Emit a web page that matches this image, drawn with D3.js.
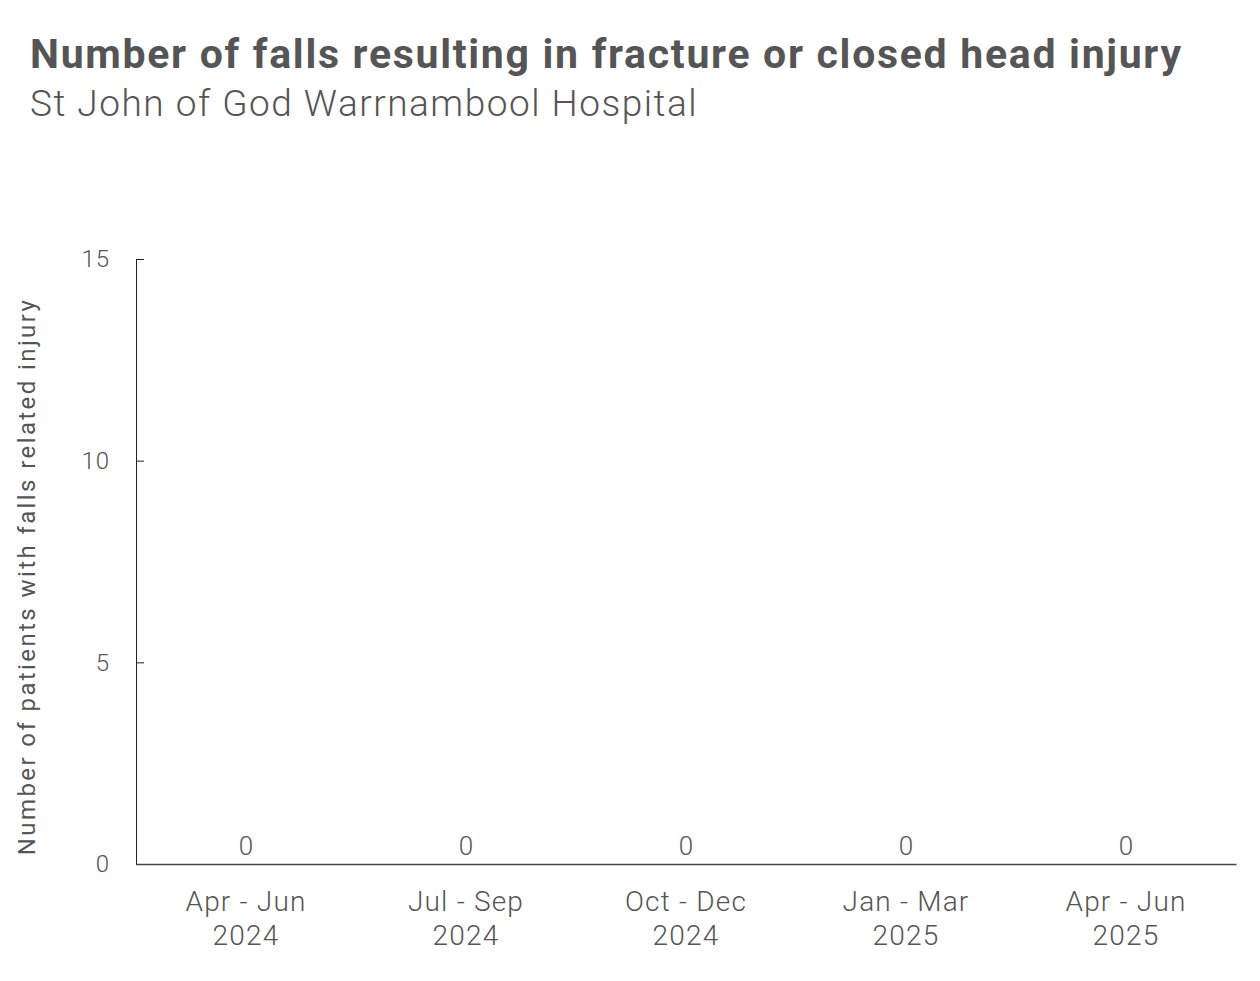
<!DOCTYPE html>
<html>
<head>
<meta charset="utf-8">
<script src="https://cdn.jsdelivr.net/npm/d3@7"></script>
<style>
  body { margin: 0; background: #fff; }
  svg text { font-family: Roboto, "DejaVu Sans", sans-serif; }
</style>
</head>
<body>
<svg width="1260" height="981"></svg>
<script>
// data
const periods = ["Apr - Jun 2024", "Jul - Sep 2024", "Oct - Dec 2024", "Jan - Mar 2025", "Apr - Jun 2025"];
const periodLines = [["Apr - Jun", "2024"], ["Jul - Sep", "2024"], ["Oct - Dec", "2024"], ["Jan - Mar", "2025"], ["Apr - Jun", "2025"]];
const falls = [0, 0, 0, 0, 0];
const yTicks = [0, 5, 10, 15];

const titleText = "Number of falls resulting in fracture or closed head injury";
const subtitleText = "St John of God Warrnambool Hospital";
const yTitle = "Number of patients with falls related injury";

const margin = { top: 259, right: 24, bottom: 117, left: 136 };
const W = 1260, H = 981;
const width = W - margin.left - margin.right;
const height = H - margin.top - margin.bottom;

const svg = d3.select("svg");

svg.append("text")
   .attr("x", 30).attr("y", 68)
   .attr("fill", "#555")
   .style("font-size", "41px")
   .style("font-weight", "700")
   .style("letter-spacing", "1.7px")
   .text(titleText);

svg.append("text")
   .attr("x", 30).attr("y", 116)
   .attr("fill", "#555")
   .style("font-size", "37px")
   .style("font-weight", "300")
   .style("letter-spacing", "1.5px")
   .text(subtitleText);

const g = svg.append("g")
             .attr("transform", `translate(${margin.left},${margin.top})`);

const x = d3.scaleBand().domain(periods).range([0, width]).padding(0);
const y = d3.scaleLinear().domain([0, 15]).range([height, 0]);

// y axis, ticks point inward
const yAxis = g.append("g")
   .call(d3.axisLeft(y).tickValues(yTicks).tickSize(-8).tickPadding(26));
yAxis.select(".domain").attr("stroke", "#222");
yAxis.selectAll(".tick line").attr("stroke", "#222");
yAxis.selectAll(".tick text")
     .attr("fill", "#555")
     .style("font-size", "24px")
     .style("font-family", "Roboto")
     .style("font-weight", "300")
     .style("letter-spacing", "1px");

// x axis
const xAxis = g.append("g")
   .attr("transform", `translate(0,${height})`)
   .call(d3.axisBottom(x).tickSize(0).tickFormat(""));
xAxis.select(".domain").attr("stroke", "#444").attr("stroke-width", 1.5);

xAxis.selectAll(".tick").each(function(d, i) {
  const t = d3.select(this).append("text")
    .attr("fill", "#555")
    .attr("text-anchor", "middle")
    .style("font-size", "28px")
    .style("font-family", "Roboto")
    .style("font-weight", "300")
    .style("letter-spacing", "1.2px");
  periodLines[i].forEach((ln, j) => {
    t.append("tspan").attr("x", 0).attr("y", 47 + j * 34).text(ln);
  });
});

// value labels
g.selectAll(".val")
 .data(falls)
 .enter()
 .append("text")
 .attr("class", "val")
 .attr("x", (d, i) => x(periods[i]) + x.bandwidth() / 2)
 .attr("y", d => y(d) - 9)
 .attr("text-anchor", "middle")
 .attr("fill", "#555")
 .style("font-size", "26px")
 .style("font-weight", "300")
 .text(d => d);

// y axis title
svg.append("text")
   .attr("transform", `translate(35,${(298 + 855) / 2}) rotate(-90)`)
   .attr("text-anchor", "middle")
   .attr("fill", "#555")
   .style("font-size", "24px")
   .style("font-weight", "400")
   .style("letter-spacing", "2.4px")
   .text(yTitle);
</script>
</body>
</html>
